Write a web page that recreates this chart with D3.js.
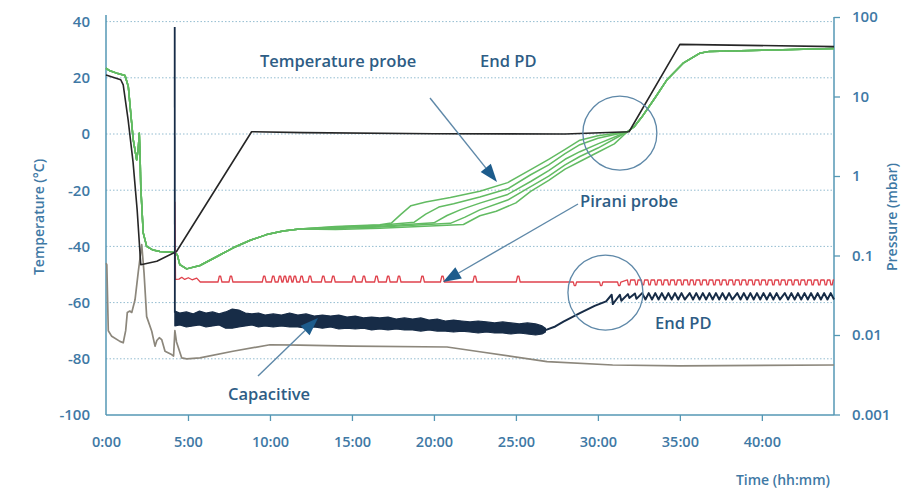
<!DOCTYPE html>
<html>
<head>
<meta charset="utf-8">
<script src="https://cdn.jsdelivr.net/npm/d3@7"></script>
<style>
  body { margin: 0; background: #fff; }
  svg text { font-family: "Open Sans", "Noto Sans", sans-serif; }
</style>
</head>
<body>
<svg id="chart" width="903" height="490"></svg>
<script>
// ---- data (hours, °C / mbar) ----
const timeTicks = [0, 5, 10, 15, 20, 25, 30, 35, 40];
const tempTicks = [40, 20, 0, -20, -40, -60, -80, -100];
const pressureTicks = [100, 10, 1, 0.1, 0.01, 0.001];

// shelf temperature
const shelfTemp = [[0, 21], [0.9, 19.3], [1.05, 17.5], [1.35, 5], [1.65, -10], [1.9, -27], [2.12, -46.5],
  [3.1, -45.3], [4.3, -41.8], [8.88, 0.8], [12, 0.5], [20, 0.1], [28, 0], [31.9, 0.8], [35.0, 31.9], [44.4, 31.1]];

// product temperature probes: common start, individual drying part, common end
const probeStart = [[0, 23.4], [0.24, 22.5], [0.73, 21.5], [1.16, 20.8], [1.36, 16.9], [1.5, 8], [1.66, -2],
  [1.87, -9.2], [1.97, -5], [2.03, 0.3], [2.08, -8], [2.12, -18.7], [2.27, -35.2], [2.48, -40], [2.87, -41.3],
  [3.29, -41.8], [4.2, -42.2], [4.35, -43], [4.5, -46.5], [4.92, -48], [5.73, -46.8], [6.8, -43.5],
  [7.76, -40.5], [8.8, -37.8], [9.8, -35.8], [10.8, -34.5], [11.8, -33.8]];
const probe1 = [[14, -32.9], [16.7, -32.3], [17.4, -31.7], [18.0, -28.5], [18.6, -25.5], [19.5, -24.2], [21, -22.6],
  [22.8, -20.4], [24.5, -17.3], [25.9, -12.7], [27, -9], [28, -5.5], [28.9, -2.2], [30, -0.6], [31.8, 0.8]];
const probe2 = [[14, -33.1], [16.7, -32.5], [18.8, -31.4], [19.5, -28.5], [20.3, -26], [21.2, -24.8], [22.8, -22.4],
  [24.5, -19.5], [25.9, -14.5], [27, -11], [28, -7], [28.9, -3.8], [30, -1.5], [31.8, 0.8]];
const probe3 = [[14, -33.3], [16.7, -32.8], [20, -31.6], [20.8, -29], [21.6, -27], [22.8, -24.6], [24.5, -21.5],
  [25.9, -16.9], [27, -13], [28, -9], [28.9, -6.3], [30, -3.5], [31.8, 0.8]];
const probe4 = [[14, -33.6], [16.7, -33.1], [21, -31.8], [21.9, -29.6], [22.8, -27], [24.5, -23.5], [25.9, -18.7],
  [27, -15], [28, -11], [28.9, -8], [30, -5], [31.8, 0.8]];
const probe5 = [[14, -34], [16.7, -33.5], [21.8, -32.2], [22.8, -29.1], [23.8, -27.5], [25, -24.5], [25.9, -20.4],
  [27, -16.5], [28, -12.5], [28.9, -9.8], [30, -6.5], [31, -3.5], [31.8, 0.8]];
const probeEnd = [[32.2, 2.5], [32.7, 6.2], [33.5, 13], [34.2, 19.2], [35.2, 25.2], [36.2, 28.7], [36.8, 29.4],
  [40, 29.8], [44.4, 30.4]];

// condenser temperature
const condenserTemp = [[0, -46], [0.05, -46.5], [0.14, -70], [0.35, -72], [0.85, -73.8], [1.05, -74.3], [1.2, -70],
  [1.3, -63.5], [1.45, -63], [1.57, -63.5], [1.77, -59], [1.97, -49], [2.18, -39.4], [2.32, -49.4], [2.48, -65],
  [2.79, -70.2], [2.99, -75.5], [3.1, -73.5], [3.25, -72.5], [3.4, -73.2], [3.6, -77.3], [4.0, -78.5], [4.12, -79],
  [4.2, -70], [4.3, -74], [4.62, -79.7], [4.92, -80], [5.73, -79.7], [7.74, -77.3], [10, -75], [11.8, -75.1],
  [15, -75.5], [20.8, -75.8], [22.8, -77.5], [26.9, -81], [30.9, -82.2], [35, -82.5], [44.4, -82.2]];

// Pirani gauge (mbar)
const piraniStart = [[4.2, 0.475], [4.24, 0.05], [4.45, 0.0505], [4.62, 0.0532], [4.8, 0.05], [5.02, 0.0525],
  [5.25, 0.0495], [5.53, 0.052], [5.75, 0.0464]];
const piraniBase = 0.0464;
const piraniSpikeTop = 0.0548;
const piraniSpikes = [6.95, 7.62, 9.65, 10.2, 10.61, 10.91, 11.22, 11.52, 11.93, 12.44, 13.25, 13.86, 15.12,
  15.73, 16.5, 17.21, 17.87, 19.3, 20.52, 22.5, 25.14];
const piraniDipLow = 0.0418;
const piraniDips = [28.6, 30.2, 31.3];
const piraniWaveTop = 0.0492;
const piraniWaveLow = 0.0428;
const piraniWaveDips = [31.9, 32.35, 32.75, 33.15, 33.55, 33.95, 34.35, 34.75, 35.15, 35.55, 35.9, 36.3, 36.7,
  37.1, 37.5, 37.9, 38.3, 38.7, 39.1, 39.5, 39.9, 40.3, 40.7, 41.1, 41.5, 41.9, 42.3, 42.7, 43.1, 43.5, 43.9, 44.25];

// capacitive gauge (mbar): drop, noisy band [t, high, low], tail
const capacitiveDrop = [[4.19, 74.8], [4.2, 0.019]];
const capacitiveBand = [[4.2, 0.0200, 0.0130], [4.5, 0.0189, 0.0134], [4.9, 0.0195, 0.0126], [5.3, 0.0184, 0.0130],
  [5.7, 0.0200, 0.0134], [6.1, 0.0189, 0.0126], [6.5, 0.0195, 0.0130], [6.9, 0.0184, 0.0134], [7.3, 0.0195, 0.0122],
  [7.7, 0.0212, 0.0122], [8.1, 0.0206, 0.0126], [8.5, 0.0189, 0.0130], [8.9, 0.0184, 0.0134], [9.3, 0.0189, 0.0126],
  [9.7, 0.0178, 0.0130], [10.2, 0.0184, 0.0126], [10.7, 0.0178, 0.0130], [11.2, 0.0189, 0.0126], [11.7, 0.0178, 0.0126],
  [12.2, 0.0184, 0.0122], [12.7, 0.0173, 0.0126], [13.2, 0.0178, 0.0122], [13.7, 0.0173, 0.0126], [14.2, 0.0178, 0.0119],
  [14.7, 0.0168, 0.0122], [15.2, 0.0173, 0.0119], [15.7, 0.0164, 0.0122], [16.2, 0.0168, 0.0116], [16.7, 0.0164, 0.0119],
  [17.2, 0.0168, 0.0116], [17.7, 0.0159, 0.0119], [18.2, 0.0164, 0.0116], [18.7, 0.0159, 0.0116], [19.2, 0.0164, 0.0112],
  [19.7, 0.0154, 0.0116], [20.2, 0.0159, 0.0112], [20.7, 0.0150, 0.0112], [21.2, 0.0154, 0.0109], [21.7, 0.0150, 0.0112],
  [22.2, 0.0146, 0.0109], [22.7, 0.0150, 0.0106], [23.2, 0.0146, 0.0109], [23.7, 0.0142, 0.0106], [24.2, 0.0146, 0.0106],
  [24.7, 0.0142, 0.0103], [25.2, 0.0138, 0.0106], [25.7, 0.0142, 0.0103], [26.2, 0.0138, 0.0100], [26.6, 0.0130, 0.0103],
  [26.8, 0.0122, 0.0109]];
const capacitiveTail = [[26.8, 0.0115], [27.4, 0.0128], [27.9, 0.0147], [28.9, 0.0188], [29.8, 0.0232], [30.5, 0.0265],
  [30.84, 0.0321], [30.91, 0.0245], [31.34, 0.0321], [31.43, 0.027], [31.83, 0.0327], [31.92, 0.0292],
  [32.26, 0.0333], [32.35, 0.0285]];
const capacitiveWaveHigh = 0.0336;
const capacitiveWaveLow = 0.0279;
const capacitiveWavePeaks = [32.7, 33.1, 33.5, 33.9, 34.3, 34.7, 35.1, 35.6, 36.0, 36.4, 36.8, 37.2, 37.6, 38.0,
  38.5, 38.9, 39.3, 39.7, 40.1, 40.5, 40.9, 41.4, 41.8, 42.2, 42.6, 43.0, 43.4, 43.8, 44.2];

// ---- layout ----
const svg = d3.select("#chart");
const margin = { left: 106, right: 834, top: 21.6, bottom: 415 };

const x = d3.scaleLinear().domain([0, 44.4]).range([margin.left, margin.right]);
const yT = d3.scaleLinear().domain([-100, 40]).range([margin.bottom, margin.top]);
const yP = d3.scaleLog().domain([0.001, 100]).range([414.5, 17]);

const axisColor = "#5497b4";
const labelColor = "#3f79a5";
const noteColor = "#2e5d85";

// gridlines
svg.append("g")
  .selectAll("line")
  .data(tempTicks.filter(d => d > -100))
  .join("line")
  .attr("x1", margin.left).attr("x2", margin.right)
  .attr("y1", d => yT(d)).attr("y2", d => yT(d))
  .attr("stroke", "#93bcd0")
  .attr("stroke-width", 1)
  .attr("stroke-dasharray", "1.5,2");

// axes
const xAxis = d3.axisBottom(x).tickValues(timeTicks).tickFormat(d => d + ":00")
  .tickSizeInner(6).tickSizeOuter(0).tickPadding(16);
const gx = svg.append("g").attr("transform", `translate(0,${margin.bottom})`).call(xAxis);

const leftAxis = d3.axisLeft(yT).tickValues(tempTicks).tickFormat(d => String(d)).tickSize(0).tickPadding(16);
const gl = svg.append("g").attr("transform", `translate(${margin.left},0)`).call(leftAxis);

const rightAxis = d3.axisRight(yP).tickValues(pressureTicks).tickFormat(d => String(d))
  .tickSizeInner(6).tickSizeOuter(0).tickPadding(12);
const gr = svg.append("g").attr("transform", `translate(${margin.right},0)`).call(rightAxis);

[gx, gl, gr].forEach(g => {
  g.select(".domain").remove();
  g.selectAll(".tick line").attr("stroke", axisColor).attr("stroke-width", 1.3);
  g.selectAll(".tick text")
    .attr("fill", labelColor)
    .style("font-size", "15px")
    .style("font-weight", 600);
});
gx.selectAll(".tick text").style("font-size", "14.5px");
gx.selectAll(".tick").filter(d => d === 0).select("line").remove();

// axis lines
svg.append("line").attr("x1", margin.left).attr("x2", margin.left).attr("y1", 15).attr("y2", margin.bottom)
  .attr("stroke", axisColor).attr("stroke-width", 1.5);
svg.append("line").attr("x1", margin.right).attr("x2", margin.right).attr("y1", 17).attr("y2", margin.bottom)
  .attr("stroke", axisColor).attr("stroke-width", 1.5);
svg.append("line").attr("x1", margin.left).attr("x2", margin.right).attr("y1", margin.bottom).attr("y2", margin.bottom)
  .attr("stroke", axisColor).attr("stroke-width", 1.5);

// axis titles
svg.append("text")
  .attr("transform", "translate(44,217) rotate(-90)")
  .attr("text-anchor", "middle")
  .attr("fill", labelColor)
  .style("font-size", "14px").style("font-weight", 600)
  .text("Temperature (°C)");
svg.append("text")
  .attr("transform", "translate(897,217) rotate(-90)")
  .attr("text-anchor", "middle")
  .attr("fill", labelColor)
  .style("font-size", "14px").style("font-weight", 600)
  .text("Pressure (mbar)");
svg.append("text")
  .attr("x", 830).attr("y", 485)
  .attr("text-anchor", "end")
  .attr("fill", labelColor)
  .style("font-size", "14px").style("font-weight", 600)
  .text("Time (hh:mm)");

// ---- series ----
const lineT = d3.line().x(d => x(d[0])).y(d => yT(d[1]));
const lineP = d3.line().x(d => x(d[0])).y(d => yP(d[1]));

function drawPath(d, gen, color, width) {
  svg.append("path")
    .datum(d)
    .attr("d", gen)
    .attr("fill", "none")
    .attr("stroke", color)
    .attr("stroke-width", width)
    .attr("stroke-linejoin", "round");
}

// condenser
drawPath(condenserTemp, lineT, "#8c877c", 1.7);

// probes
[probe1, probe2, probe3, probe4, probe5].forEach(p => {
  drawPath(probeStart.concat(p, probeEnd), lineT, "#62bb62", 1.5);
});

// shelf
drawPath(shelfTemp, lineT, "#262626", 1.6);

// Pirani: flat part with spikes, dips and final wave
const pirani = piraniStart.slice();
piraniSpikes.forEach(t => {
  pirani.push([t - 0.12, piraniBase], [t - 0.04, piraniSpikeTop], [t + 0.04, piraniSpikeTop], [t + 0.12, piraniBase]);
});
piraniDips.forEach(t => {
  pirani.push([t - 0.1, piraniBase], [t - 0.04, piraniDipLow], [t + 0.04, piraniDipLow], [t + 0.1, piraniBase]);
});
piraniWaveDips.forEach(t => {
  pirani.push([t - 0.1, piraniWaveTop], [t - 0.04, piraniWaveLow], [t + 0.04, piraniWaveLow], [t + 0.1, piraniWaveTop]);
});
pirani.push([44.4, piraniWaveTop]);
pirani.sort((a, b) => a[0] - b[0]);
drawPath(pirani, lineP, "#e0424c", 1.3);

// capacitive
const capColor = "#172c47";
drawPath(capacitiveDrop, lineP, capColor, 1.8);
svg.append("path")
  .datum(capacitiveBand)
  .attr("d", d3.area().x(d => x(d[0])).y0(d => yP(d[2])).y1(d => yP(d[1])))
  .attr("fill", capColor)
  .attr("stroke", capColor)
  .attr("stroke-width", 1.2)
  .attr("stroke-linejoin", "round");
const capWave = capacitiveTail.slice();
capacitiveWavePeaks.forEach(t => {
  capWave.push([t, capacitiveWaveHigh], [t + 0.2, capacitiveWaveLow]);
});
drawPath(capWave, lineP, capColor, 2);

// ---- annotations ----
const ringColor = "#5e88a8";
svg.append("circle").attr("cx", x(31.34)).attr("cy", yT(0.3)).attr("r", 37)
  .attr("fill", "none").attr("stroke", ringColor).attr("stroke-width", 1.3);
svg.append("circle").attr("cx", x(30.46)).attr("cy", yP(0.0342)).attr("r", 37.5)
  .attr("fill", "none").attr("stroke", ringColor).attr("stroke-width", 1.3);

function arrow(x1, y1, x2, y2) {
  const ang = Math.atan2(y2 - y1, x2 - x1);
  const len = 18, half = 6.5;
  const bx = x2 - len * Math.cos(ang), by = y2 - len * Math.sin(ang);
  svg.append("line").attr("x1", x1).attr("y1", y1).attr("x2", bx).attr("y2", by)
    .attr("stroke", ringColor).attr("stroke-width", 1.4);
  const pts = [[x2, y2],
    [bx + half * Math.sin(ang), by - half * Math.cos(ang)],
    [bx - half * Math.sin(ang), by + half * Math.cos(ang)]];
  svg.append("polygon").attr("points", pts.map(p => p.join(",")).join(" ")).attr("fill", "#1d5c8c");
}
arrow(430, 98, 497, 182);
arrow(578, 204, 443, 282);
arrow(258, 376, 318, 318);

const notes = [
  { text: "Temperature probe", x: 260, y: 67 },
  { text: "End PD", x: 480, y: 67 },
  { text: "Pirani probe", x: 580, y: 207 },
  { text: "End PD", x: 655, y: 329 },
  { text: "Capacitive", x: 228, y: 400 }
];
svg.append("g").selectAll("text")
  .data(notes)
  .join("text")
  .attr("x", d => d.x).attr("y", d => d.y)
  .attr("fill", noteColor)
  .style("font-size", "16.5px")
  .style("font-weight", 600)
  .text(d => d.text);
</script>
</body>
</html>
